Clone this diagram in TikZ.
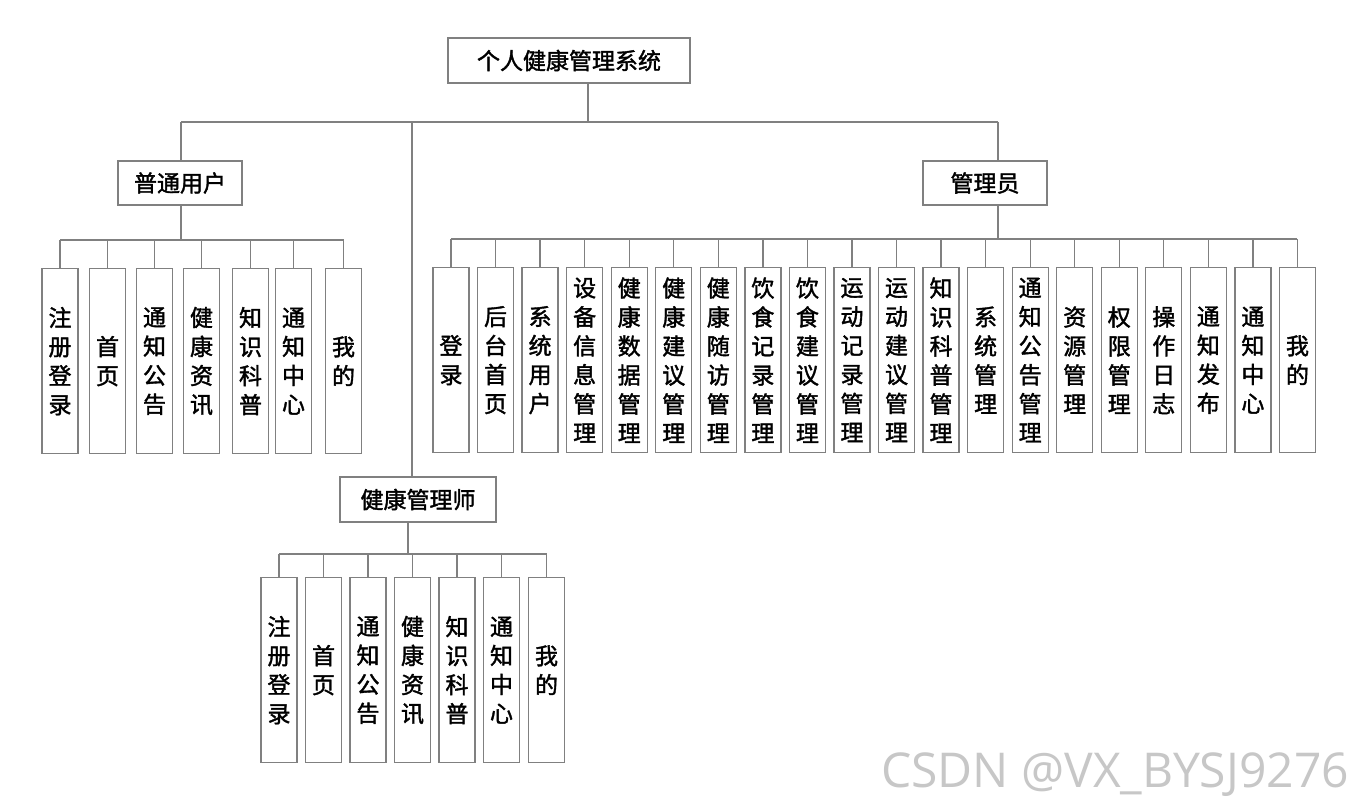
\documentclass[tikz,border=0pt]{standalone}
\usepackage{fontspec}
\newfontfamily\cjk{Noto Sans CJK SC}[AutoFakeBold=1.6]
\newfontfamily\wmfont{Open Sans}
\begin{document}
\begin{tikzpicture}[x=1pt,y=-1pt,
  conn/.style={draw=black!50,line width=1.3pt},
  boxbase/.style={draw=black!50,line width=1.3pt,fill=white,inner sep=0pt,
    text=black,font=\cjk\bfseries\fontsize{23}{29}\selectfont,align=center},
  hbox/.style={boxbase},
  vbox/.style={boxbase,minimum width=36pt,minimum height=185pt,anchor=north}]
\useasboundingbox[fill=white] (0,0) rectangle (1362,802);

% level 0 and 1
\node[hbox,minimum width=242pt,minimum height=45pt] (top) at (569,60.5) {个人健康管理系统};
\node[hbox,minimum width=124pt,minimum height=44pt] (user) at (180,183) {普通用户};
\node[hbox,minimum width=124pt,minimum height=44pt] (admin) at (985,183) {管理员};
\node[hbox,minimum width=156pt,minimum height=45pt] (hm) at (418,499.5) {健康管理师};

% leaves: 普通用户
\foreach \t/\cx [count=\i] in {{注\\册\\登\\录}/60,{首\\页}/107.5,{通\\知\\公\\告}/154.5,{健\\康\\资\\讯}/201.5,{知\\识\\科\\普}/250.5,{通\\知\\中\\心}/293.5,{我\\的}/343.5}
  \node[vbox] (u\i) at (\cx,268) {\t};

% leaves: 管理员
\foreach \t [count=\i from 0] in {{登\\录},{后\\台\\首\\页},{系\\统\\用\\户},{设\\备\\信\\息\\管\\理},{健\\康\\数\\据\\管\\理},{健\\康\\建\\议\\管\\理},{健\\康\\随\\访\\管\\理},{饮\\食\\记\\录\\管\\理},{饮\\食\\建\\议\\管\\理},{运\\动\\记\\录\\管\\理},{运\\动\\建\\议\\管\\理},{知\\识\\科\\普\\管\\理},{系\\统\\管\\理},{通\\知\\公\\告\\管\\理},{资\\源\\管\\理},{权\\限\\管\\理},{操\\作\\日\\志},{通\\知\\发\\布},{通\\知\\中\\心},{我\\的}}
  \node[vbox] (a\i) at ({451+\i*44.55},267) {\t};

% leaves: 健康管理师
\foreach \t/\cx [count=\i] in {{注\\册\\登\\录}/279,{首\\页}/323.5,{通\\知\\公\\告}/368,{健\\康\\资\\讯}/412.5,{知\\识\\科\\普}/457,{通\\知\\中\\心}/501.5,{我\\的}/546.5}
  \node[vbox] (h\i) at (\cx,577) {\t};

% main bus
\coordinate (j0) at (588,122);
\coordinate (jL) at (181,122);
\coordinate (jM) at (412,122);
\coordinate (jR) at (998,122);
\draw[conn] (top.south -| j0) -- (j0);
\draw[conn] (jL) -- (jR);
\draw[conn] (jL) -- (jL |- user.north);
\draw[conn] (jM) -- (jM |- hm.north);
\draw[conn] (jR) -- (jR |- admin.north);

% 普通用户 bus
\coordinate (ub) at (181,240);
\draw[conn] (user.south -| ub) -- (ub);
\draw[conn] (u1.north |- ub) -- (u7.north |- ub);
\foreach \i in {1,...,7} \draw[conn] (u\i.north |- ub) -- (u\i.north);

% 管理员 bus
\coordinate (ab) at (998,239);
\draw[conn] (admin.south -| ab) -- (ab);
\draw[conn] (a0.north |- ab) -- (a19.north |- ab);
\foreach \i in {0,...,19} \draw[conn] (a\i.north |- ab) -- (a\i.north);

% 健康管理师 bus
\coordinate (hb) at (408,554);
\draw[conn] (hm.south -| hb) -- (hb);
\draw[conn] (h1.north |- hb) -- (h7.north |- hb);
\foreach \i in {1,...,7} \draw[conn] (h\i.north |- hb) -- (h\i.north);

% watermark
\node[anchor=base west,inner sep=0pt,text=black!22,font=\wmfont\fontsize{48}{48}\selectfont] (wm) at (881,787) {CSDN @VX\_BYSJ9276};
\end{tikzpicture}
\end{document}
